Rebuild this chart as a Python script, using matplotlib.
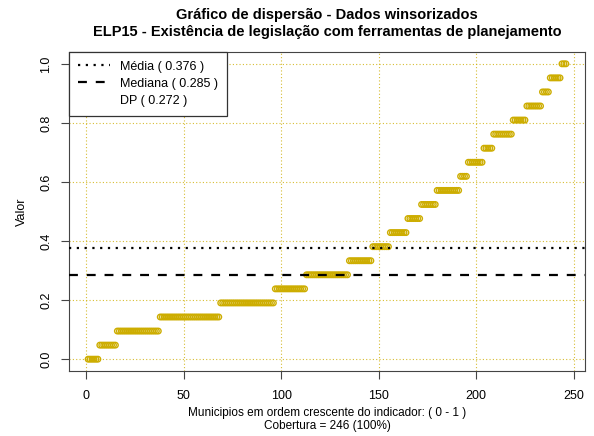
import numpy as np
import matplotlib
matplotlib.use('Agg')
import matplotlib.pyplot as plt
from matplotlib.lines import Line2D

plt.rcParams['font.family'] = ['Liberation Sans', 'DejaVu Sans']

# value levels (k/21) and how many municipios sit on each one
levels = [0, 1, 2, 3, 4, 5, 6, 7, 8, 9, 10, 11, 12, 13, 14, 15, 16, 17, 18, 19, 20, 21]
counts = [6, 9, 22, 31, 28, 16, 22, 12, 9, 9, 7, 8, 12, 4, 8, 5, 10, 7, 8, 4, 6, 3]
media = 0.376
mediana = 0.285
dp = 0.272

valores = np.repeat(np.array(levels) / 21.0, counts)
idx = np.arange(1, len(valores) + 1)
n = len(valores)

gold = '#CDAD00'

fig = plt.figure(figsize=(5.94, 4.36), dpi=100)
ax = fig.add_axes([69/594, 1 - 371/436, (585-69)/594, (371-52)/436])

xt = [0, 50, 100, 150, 200, 250]
yt = [0.0, 0.2, 0.4, 0.6, 0.8, 1.0]
for v in xt:
    ax.axvline(v, color=gold, ls=(0, (1, 2)), lw=0.8, alpha=0.8, zorder=1)
for v in yt:
    ax.axhline(v, color=gold, ls=(0, (1, 2)), lw=0.8, alpha=0.8, zorder=1)

ax.scatter(idx, valores, s=16, facecolors='none', edgecolors=gold, linewidths=1.0, zorder=2)

ax.axhline(media, color='black', ls=(0, (1, 2.5)), lw=1.6, zorder=3)
ax.axhline(mediana, color='black', ls=(0, (4, 4)), lw=1.6, zorder=3)

rng = n - 1
ax.set_xlim(1 - 0.04 * rng, n + 0.04 * rng)
ax.set_ylim(-0.04, 1.04)
ax.set_xticks(xt)
ax.set_yticks(yt)
ax.set_yticklabels(['0.0', '0.2', '0.4', '0.6', '0.8', '1.0'], rotation=90, va='center')
ax.tick_params(labelsize=9, length=6, color='#444444')
ax.tick_params(axis='x', pad=8)
ax.tick_params(axis='y', pad=6)
for s in ax.spines.values():
    s.set_color('#444444')

ax.set_ylabel('Valor', fontsize=9, labelpad=9)
ax.set_xlabel('Municipios em ordem crescente do indicador: ( 0 - 1 )\nCobertura = 246 (100%)',
              fontsize=8.5, labelpad=3, linespacing=1.15)

fig.text(327/594, 1 - 15/436, 'Gráfico de dispersão - Dados winsorizados',
         ha='center', va='center', fontsize=10.5, fontweight='bold')
fig.text(327/594, 1 - 32/436, 'ELP15 - Existência de legislação com ferramentas de planejamento',
         ha='center', va='center', fontsize=10.5, fontweight='bold')

handles = [Line2D([], [], color='black', ls=(0, (1, 2.5)), lw=1.6),
           Line2D([], [], color='black', ls=(0, (4, 4)), lw=1.6),
           Line2D([], [], color='none')]
labels = [f'Média ( {media:.3f} )', f'Mediana ( {mediana:.3f} )', f'DP ( {dp:.3f} )']
leg = ax.legend(handles, labels, loc='upper left', borderaxespad=0, fontsize=9,
                frameon=True, fancybox=False, edgecolor='#333333', framealpha=1,
                handlelength=2.6, labelspacing=0.4, borderpad=0.7)
leg.get_frame().set_linewidth(0.9)

fig.savefig('out.png', dpi=100)
